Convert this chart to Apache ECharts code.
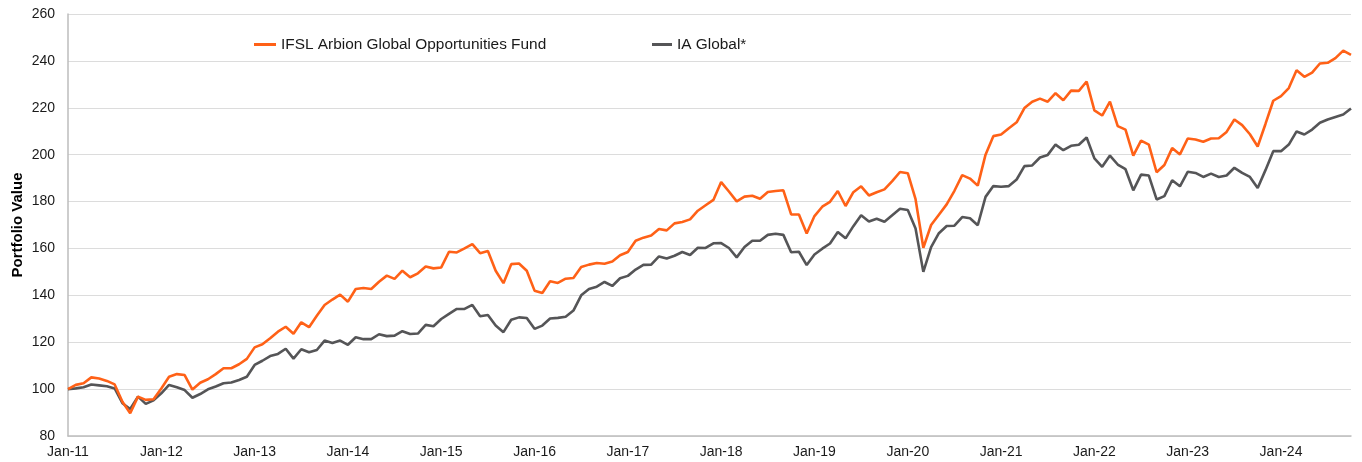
<!DOCTYPE html>
<html lang="en">
<head>
    <meta charset="UTF-8">
    <title>Portfolio Value</title>
    <style>
        html, body {
            margin: 0;
            padding: 0;
            background: #fff;
        }

        #chart1 {
            width: 1362px;
            height: 462px;
        }
    </style>
</head>
<body>
<div id="chart1"></div>
<script src="https://cdn.jsdelivr.net/npm/echarts@6/dist/echarts.min.js"></script>
<script type="text/javascript">
    // monthly values, Jan-11 .. Oct-24 (one row per year)
    var fundValues = [
        100, 101.8, 102.5, 105, 104.5, 103.5, 102, 94.6, 89.7, 96.8, 95.4, 95.7,
        100.3, 105.3, 106.4, 106, 99.8, 102.7, 104.2, 106.4, 108.9, 108.9, 110.6, 112.9,
        117.8, 119.1, 121.7, 124.5, 126.6, 123.6, 128.5, 126.4, 131.3, 135.9, 138.2, 140.3,
        137.3, 142.7, 143.1, 142.7, 145.8, 148.4, 147, 150.5, 147.7, 149.4, 152.3, 151.5,
        151.9, 158.6, 158.3, 160, 161.8, 158, 158.9, 150.5, 145.2, 153.3, 153.6, 150.5,
        142, 141, 146, 145.3, 147.1, 147.4, 152.1, 153.1, 153.8, 153.5, 154.4, 157.1,
        158.5, 163.3, 164.6, 165.5, 168.3, 167.7, 170.7, 171.3, 172.4, 176.1, 178.4, 180.7,
        188.3, 184.3, 180.1, 182.1, 182.5, 181.2, 184.1, 184.5, 184.8, 174.5, 174.5, 166.4,
        173.8, 177.8, 179.9, 184.5, 178.1, 184, 186.5, 182.6, 184, 185.2, 188.7, 192.6,
        192.1, 181, 160.3, 170, 174.4, 178.8, 184.6, 191.3, 189.8, 186.8, 200, 207.9,
        208.6, 211.3, 213.8, 219.9, 222.6, 223.9, 222.6, 226.2, 223.2, 227.3, 227.2, 231.2,
        218.9, 216.7, 222.6, 212.2, 210.7, 199.6, 206, 204.3, 192.5, 195.6, 202.8, 200.1,
        206.9, 206.5, 205.5, 206.9, 207, 209.7, 215, 212.6, 208.7, 203.5, 213.1, 223,
        225, 228.4, 236, 233.2, 235, 238.9, 239.2, 241.2, 244.4, 242.6
    ];

    var sectorValues = [
        100, 100.3, 100.8, 102, 101.6, 101.2, 100.3, 94, 91.5, 96.8, 93.7, 95.2,
        98.2, 101.8, 100.8, 99.6, 96.3, 97.9, 99.9, 101.1, 102.5, 102.8, 103.9, 105.3,
        110.3, 112.1, 114.1, 115, 117.2, 113, 117, 115.7, 116.7, 120.7, 119.7, 120.7,
        118.9, 122.1, 121.3, 121.3, 123.4, 122.6, 122.8, 124.7, 123.5, 123.7, 127.4, 126.8,
        129.9, 132.1, 134.2, 134.2, 135.9, 131.1, 131.6, 127.1, 124.3, 129.6, 130.6, 130.3,
        125.7, 127.1, 130.1, 130.4, 130.9, 133.5, 140, 142.7, 143.7, 145.7, 144, 147.3,
        148.3, 151, 153, 153.1, 156.6, 155.7, 156.9, 158.5, 157.2, 160.3, 160.2, 162.2,
        162.3, 160.2, 156.2, 160.6, 163.3, 163.3, 165.8, 166.3, 165.8, 158.4, 158.6, 152.9,
        157.4, 159.9, 162.1, 167, 164.3, 169.5, 174.2, 171.5, 172.7, 171.4, 174.2, 176.9,
        176.4, 168.5, 150, 160.6, 166.5, 169.6, 169.7, 173.4, 172.9, 169.9, 182, 186.6,
        186.3, 186.6, 189.4, 195.1, 195.4, 198.8, 199.9, 204.3, 201.9, 203.8, 204.2, 207.3,
        198.4, 194.8, 199.6, 195.8, 193.8, 184.8, 191.5, 191.1, 180.9, 182.3, 189.1, 186.5,
        192.7, 192.2, 190.5, 191.9, 190.5, 191.1, 194.4, 192.2, 190.5, 185.8, 193.4, 201.5,
        201.5, 204.3, 209.9, 208.6, 210.7, 213.6, 215, 216.1, 217.1, 219.7
    ];

    var seriesNames = ['IFSL Arbion Global Opportunities Fund', 'IA Global*'];
    var monthNames = ['Jan', 'Feb', 'Mar', 'Apr', 'May', 'Jun', 'Jul', 'Aug', 'Sep', 'Oct', 'Nov', 'Dec'];

    // category labels like "Jan-11" ... "Oct-24"
    var months = [];
    for (var i = 0; i < fundValues.length; i++) {
        var yy = 11 + Math.floor(i / 12);
        months.push(monthNames[i % 12] + '-' + yy);
    }

    var chart1 = echarts.init(document.getElementById('chart1'));
    var font = '"Liberation Sans", Arial, Helvetica, sans-serif';

    chart1.setOption({
        animation: false,
        textStyle: {fontFamily: font},
        grid: {left: 68, right: 11, top: 14, bottom: 26, outerBoundsMode: 'none', containLabel: false},
        legend: [{
            data: [seriesNames[0]],
            left: 254,
            top: 37,
            padding: 0,
            icon: 'rect',
            itemWidth: 22,
            itemHeight: 3,
            textStyle: {fontSize: 15.4, color: '#1a1a1a', fontFamily: font}
        }, {
            data: [seriesNames[1]],
            left: 652,
            top: 37,
            padding: 0,
            icon: 'rect',
            itemWidth: 20,
            itemHeight: 3,
            textStyle: {fontSize: 15.4, color: '#1a1a1a', fontFamily: font}
        }],
        xAxis: {
            type: 'category',
            data: months,
            boundaryGap: false,
            axisLine: {lineStyle: {color: '#bdbdbd', width: 1.5}},
            axisTick: {show: false},
            axisLabel: {
                interval: 11,
                margin: 9,
                fontSize: 14,
                color: '#1a1a1a',
                fontFamily: font
            },
            splitLine: {show: false}
        },
        yAxis: {
            type: 'value',
            min: 80,
            max: 260,
            interval: 20,
            name: 'Portfolio Value',
            nameLocation: 'middle',
            nameGap: 43,
            nameMoveOverlap: false,
            nameTextStyle: {fontSize: 15, fontWeight: 'bold', color: '#000', fontFamily: font},
            axisLine: {show: true, lineStyle: {color: '#bdbdbd', width: 1.5}},
            axisTick: {show: false},
            axisLabel: {fontSize: 14, color: '#1a1a1a', margin: 13, fontFamily: font},
            splitLine: {lineStyle: {color: '#dcdcdc', width: 1.2}}
        },
        series: [{
            name: seriesNames[0],
            type: 'line',
            data: fundValues,
            showSymbol: false,
            color: '#ff6117',
            lineStyle: {width: 2.6, color: '#ff6117'},
            z: 3
        }, {
            name: seriesNames[1],
            type: 'line',
            data: sectorValues,
            showSymbol: false,
            color: '#555557',
            lineStyle: {width: 2.6, color: '#555557'},
            z: 2
        }]
    });
</script>
</body>
</html>
